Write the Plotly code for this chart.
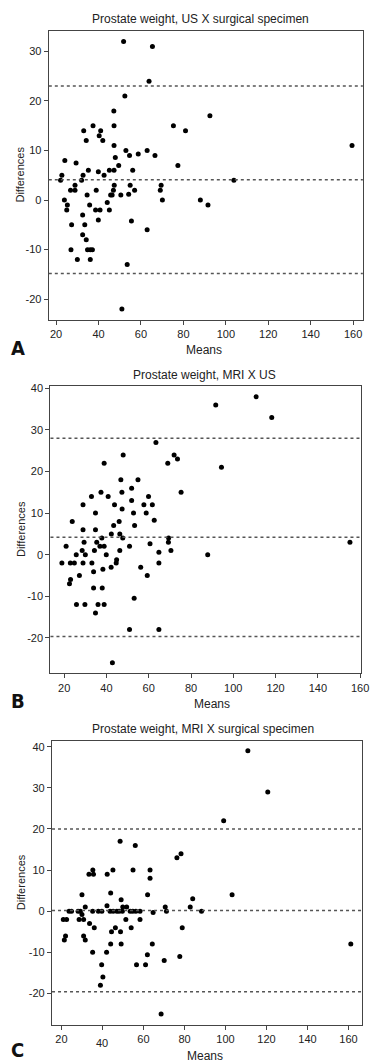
import plotly.graph_objects as go

# ---------------- Data ----------------
# Panel A: Prostate weight, US X surgical specimen
a_means = [51.8, 65.4, 63.8, 52.4, 92.5, 47.2, 75.3, 81.0, 77.4, 159.5, 103.8,
           37.4, 33.0, 34.2, 41.0, 40.3, 42.0, 47.3, 47.3, 47.9, 52.9, 54.6, 58.7, 62.9, 66.6,
           49.5, 56.1, 45.1, 47.3, 42.6, 39.9, 35.2, 29.4, 24.1, 22.7, 22.1, 32.7, 32.0,
           28.9, 26.8, 28.9, 47.4, 47.0, 38.9, 45.7, 46.4, 50.5, 54.9, 57.0, 54.2, 69.5, 69.1,
           70.1, 34.6, 23.9, 25.3, 25.0, 35.8, 44.1, 38.6, 40.7, 45.1, 32.5, 27.3, 33.5, 39.9,
           55.5, 62.9, 32.5, 34.2, 27.0, 34.8, 36.1, 37.1, 30.0, 36.1, 53.5, 51.0, 88.0, 91.6]
a_diffs = [32, 31, 24, 21, 17, 18, 15, 14, 7, 11, 4,
           15, 14, 12, 14, 13, 12, 15, 11, 8.6, 10, 9, 9.3, 10, 9,
           7, 6, 6, 6, 5, 5.7, 6, 7.5, 8, 5, 4, 5, 4,
           3, 2, 2, 3, 2, 2, 1, 1, 1, 3, 2, 1.2, 3, 2,
           0, 1, 0, -1, -2, -1, -0.5, -2, -2, -2, -3, -5, -5, -4,
           -4.2, -6, -7, -8, -10, -10, -10, -10, -12, -12, -13, -22, 0, -1]
a_lines = [23.0, 4.1, -14.8]

# Panel B: Prostate weight, MRI X US
b_means = [91.7, 110.8, 118.2, 94.4, 63.4, 69.0, 72.0, 73.6, 75.3, 47.9, 38.9, 46.8, 54.9,
           51.9, 47.3, 37.4, 32.9, 40.8, 59.9, 51.9, 28.9, 43.8, 57.7, 61.7, 47.4, 34.8, 52.8,
           58.8, 23.8, 46.0, 62.6,
           53.3, 43.4, 28.9, 34.8, 42.3, 46.3, 47.7, 37.8, 20.9, 29.4, 35.4, 36.9, 38.9, 28.5,
           34.3, 46.3, 50.9, 60.6, 69.4, 69.3, 70.5, 64.8, 87.9, 155.2,
           18.9, 25.7, 30.0, 39.9, 22.9, 24.8, 28.9, 33.1, 44.8, 44.6, 56.2, 64.8, 38.3, 33.9,
           42.2, 59.3, 27.2, 23.0, 22.5, 33.9, 38.0, 53.1, 25.8, 29.8, 36.0, 38.9, 34.8, 50.9,
           64.8, 42.8]
b_diffs = [36, 38, 33, 21, 27, 22, 24, 23, 15, 24, 22, 18, 18,
           16, 15, 15, 14, 14, 14, 13, 12, 12, 12, 12, 11, 10, 10,
           10, 8, 8, 8.3,
           7, 7, 6, 6, 5, 5, 4, 4, 2, 3, 3, 2, 2, 1,
           1, 1, 2, 2.6, 4, 3, 1, 0.6, 0, 3,
           -2, 0, 0, 0, -2, -2, -2, -2, -1.2, -2, -3, -2, -3.5, -4.1,
           -3, -5, -5, -6, -7, -8, -8, -10.5, -12, -12, -12, -12, -14, -18,
           -18, -26]
b_lines = [28.0, 4.2, -19.7]

# Panel C: Prostate weight, MRI X surgical specimen
c_means = [110.9, 120.6, 99.1, 48.6, 56.0, 76.3, 78.3, 33.4, 35.6, 35.3, 42.3, 45.1, 54.9,
           63.2, 63.2,
           30.0, 44.0, 49.1, 62.0, 84.0, 82.8, 31.6, 42.2, 49.9, 51.8, 70.6, 103.2,
           23.7, 24.9, 28.1, 29.2, 35.2, 38.0, 39.7, 43.7, 45.2, 47.0, 48.1, 49.7, 53.5, 54.8,
           56.3, 58.3, 64.7, 71.2, 88.3,
           30.0, 28.6, 30.8, 20.9, 22.5, 33.7, 36.0, 51.4, 58.3, 46.3, 44.4, 48.8, 54.0, 78.9,
           22.0, 21.4, 30.8, 31.6, 35.2, 44.0, 49.1, 64.3, 42.0, 61.9, 56.6, 61.0, 70.1, 77.7,
           39.6, 40.2, 39.0, 68.6, 161.1]
c_diffs = [39, 29, 22, 17, 16, 13, 14, 9, 9, 10, 9, 10, 10,
           10, 8,
           4, 4.4, 2.8, 4, 3, 1, 1, 1.3, 1, 1, 1, 4,
           0, 0, 0, 0, 0, 0, 0, 0, 0, 0, 0, 0, 0, 0,
           0, 0, -0.3, 0, 0,
           -0.8, -2, -2, -2, -2, -3, -4, -2, -2, -4, -5, -5, -4, -4,
           -6, -7, -6, -7, -10, -8, -8, -8, -10, -10.6, -13, -13, -12, -11,
           -13, -16, -18, -25, -8]
c_lines = [20.0, 0.2, -19.6]

titles = ["Prostate weight, US X surgical specimen",
          "Prostate weight, MRI X US",
          "Prostate weight, MRI X surgical specimen"]
letters = ["A", "B", "C"]
x_ticks = [20, 40, 60, 80, 100, 120, 140, 160]
y_ticks_a = [-20, -10, 0, 10, 20, 30]
y_ticks_bc = [-20, -10, 0, 10, 20, 30, 40]

# ---------------- Layout geometry (pixels) ----------------
W, H = 378, 1063
FONT = "Liberation Sans, Arial, Helvetica, sans-serif"
TXT = "#222222"
AX = "#444444"

panels = [
    dict(means=a_means, diffs=a_diffs, lines=a_lines, box=(50, 26.7, 371.7, 316.7),
         xr=[16.55, 164.6], yr=[-24.1, 34.2], yt=y_ticks_a,
         title_xy=(205, 15), means_xy=(209, 347), diff_y=171.7, letter_xy=(18, 345)),
    dict(means=b_means, diffs=b_diffs, lines=b_lines, box=(51.7, 383.3, 369.3, 671.7),
         xr=[13.5, 160.2], yr=[-28.5, 40.6], yt=y_ticks_bc,
         title_xy=(209, 372.5), means_xy=(217, 703), diff_y=527.5, letter_xy=(18, 700)),
    dict(means=c_means, diffs=c_diffs, lines=c_lines, box=(53.3, 739.3, 370.7, 1025),
         xr=[15.4, 166.5], yr=[-27.7, 41.5], yt=y_ticks_bc,
         title_xy=(208, 728), means_xy=(210, 1056), diff_y=882, letter_xy=(18, 1050)),
]

fig = go.Figure()
annotations = []
shapes = []
layout = dict(
    width=W, height=H, margin=dict(l=0, r=0, t=0, b=0),
    paper_bgcolor="white", plot_bgcolor="white", showlegend=False,
    font=dict(family=FONT, size=11, color=TXT),
)

for i, p in enumerate(panels):
    n = "" if i == 0 else str(i + 1)
    xa, ya = "x" + n, "y" + n
    x0, y0, x1, y1 = p["box"]
    fig.add_trace(go.Scatter(
        x=p["means"], y=p["diffs"], mode="markers", xaxis=xa, yaxis=ya,
        marker=dict(size=5, color="black"), hoverinfo="x+y"))
    axis_common = dict(showgrid=False, zeroline=False, showline=True, mirror=True,
                       linecolor=AX, linewidth=1.3, ticks="outside", ticklen=4,
                       tickwidth=1.2, tickcolor=AX, ticklabeloverflow="allow",
                       tickfont=dict(family=FONT, size=11, color=TXT))
    ticktext = [str(v) for v in x_ticks]
    if i == 2:
        ticktext[1] = ""  # the "40" label sits slightly lower in panel C
    layout["xaxis" + n] = dict(axis_common, domain=[x0 / W, x1 / W], anchor=ya,
                               range=p["xr"], tickvals=x_ticks, ticktext=ticktext)
    layout["yaxis" + n] = dict(axis_common, domain=[1 - y1 / H, 1 - y0 / H], anchor=xa,
                               range=p["yr"], tickvals=p["yt"],
                               ticktext=[str(v) for v in p["yt"]])
    for v in p["lines"]:
        shapes.append(dict(type="line", xref=xa + " domain", yref=ya, x0=0, x1=1,
                           y0=v, y1=v, line=dict(color="#555555", width=1.5, dash="dot")))
    tx, ty = p["title_xy"]
    annotations.append(dict(text=titles[i], x=tx / W, y=1 - ty / H, xref="paper", yref="paper",
                            showarrow=False, xanchor="center", yanchor="middle",
                            font=dict(family=FONT, size=12, color=TXT)))
    mx, my = p["means_xy"]
    annotations.append(dict(text="Means", x=mx / W, y=1 - my / H, xref="paper", yref="paper",
                            showarrow=False, xanchor="center", yanchor="middle",
                            font=dict(family=FONT, size=12, color=TXT)))
    annotations.append(dict(text="Differences", x=21 / W, y=1 - p["diff_y"] / H,
                            xref="paper", yref="paper", showarrow=False, textangle=-90,
                            xanchor="center", yanchor="middle",
                            font=dict(family=FONT, size=11, color=TXT)))
    lx, ly = p["letter_xy"]
    annotations.append(dict(text="<b>" + letters[i] + "</b>", x=lx / W, y=1 - ly / H,
                            xref="paper", yref="paper", showarrow=False,
                            xanchor="center", yanchor="middle",
                            font=dict(family="Liberation Sans Narrow, DejaVu Sans Condensed, Arial",
                                      size=20, color="#111111")))

# shifted "40" tick label of panel C
annotations.append(dict(text="40", x=40, xref="x3", y=1 - 1043 / H, yref="paper",
                        showarrow=False, xanchor="center", yanchor="middle",
                        font=dict(family=FONT, size=11, color=TXT)))

layout["shapes"] = shapes
layout["annotations"] = annotations
fig.update_layout(**layout)
fig.write_html("out.html", config={"displayModeBar": False},
               post_script="document.body.style.margin='0px';"
                           "document.body.style.overflow='hidden';")
